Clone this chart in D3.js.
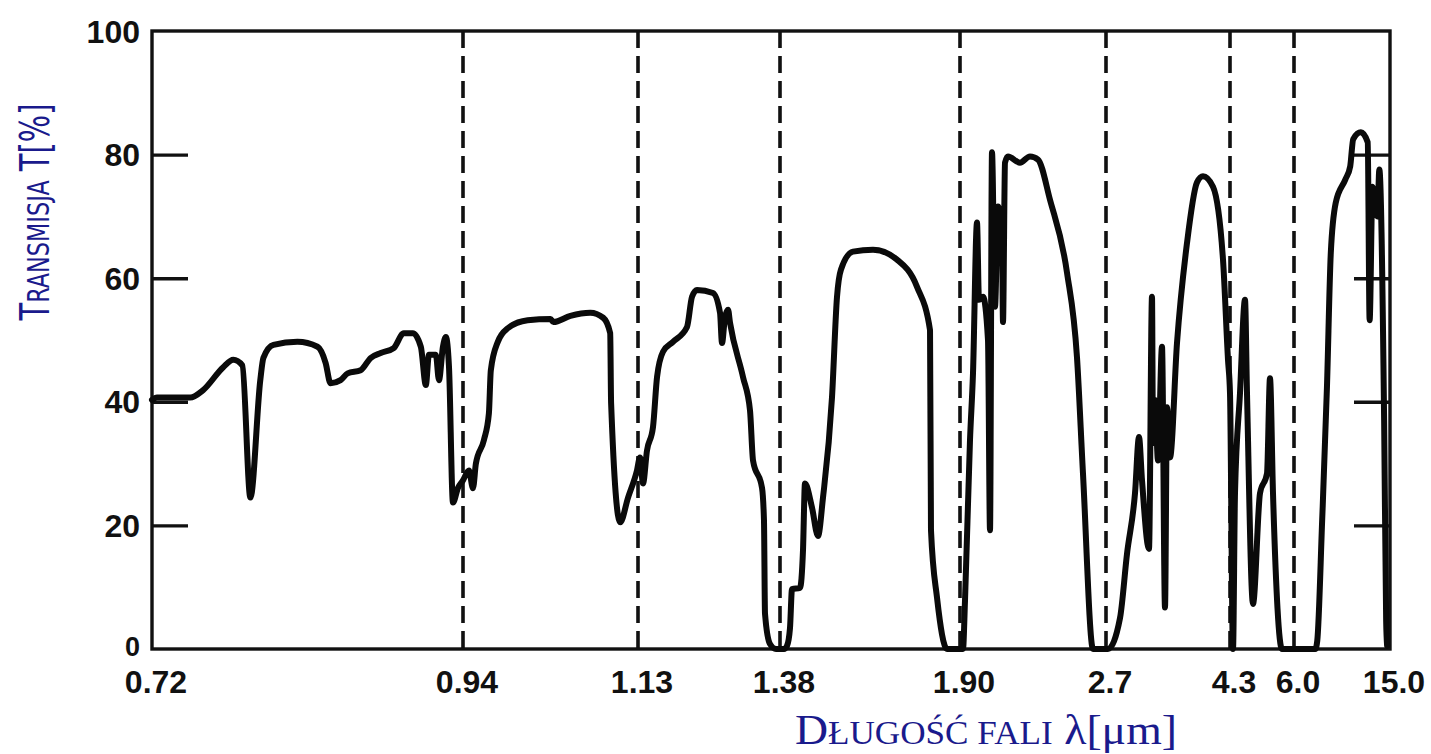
<!DOCTYPE html>
<html>
<head>
<meta charset="utf-8">
<script src="https://cdn.jsdelivr.net/npm/d3@7"></script>
<style>
  body { margin: 0; background: #fff; }
  .tick-label { font-family: "Liberation Sans", Arial, sans-serif; font-weight: bold; font-size: 32px; fill: #111; }
</style>
</head>
<body>
<div id="chart"></div>
<script>
// VARIABLES
var width = 1431;
var height = 754;

// axis values
var xTickValues = [0.72, 0.94, 1.13, 1.38, 1.90, 2.7, 4.3, 6.0, 15.0];
var xTickLabels = ["0.72", "0.94", "1.13", "1.38", "1.90", "2.7", "4.3", "6.0", "15.0"];
var dashedValues = [0.94, 1.13, 1.38, 1.90, 2.7, 4.3, 6.0];
var yTickValues = [0, 20, 40, 60, 80, 100];
var yTickLabels = ["0", "20", "40", "60", "80", "100"];

// transmission curve
var wavelength = [
  0.720, 0.7235, 0.747, 0.7562, 0.7704, 0.7775, 0.7839, 0.7896, 0.7966, 0.7988,
  0.8059, 0.8229, 0.8371, 0.8428, 0.8463, 0.8534, 0.8584, 0.8676, 0.8747, 0.8818,
  0.8910, 0.8981, 0.9045, 0.9102, 0.9137, 0.9159, 0.9208, 0.9230, 0.9258, 0.9279,
  0.9301, 0.9329, 0.9365, 0.940,
  0.9465, 0.9508, 0.9540, 0.9627, 0.9681, 0.9702, 0.9778, 0.9886, 1.0102, 1.0350,
  1.0382, 1.0566, 1.0782, 1.0922, 1.0998, 1.1008, 1.1106, 1.1192, 1.1289,
  1.1335, 1.1388, 1.1458, 1.1564, 1.1635, 1.1740, 1.1916, 1.2163, 1.2251, 1.2339,
  1.2620, 1.2744, 1.2779, 1.2832, 1.2885, 1.2920, 1.3149, 1.3272, 1.3325, 1.3483,
  1.3518, 1.3536, 1.3624, 1.3730,
  1.3916, 1.4002, 1.4089, 1.4147, 1.4378, 1.4464, 1.4522, 1.4724, 1.4898, 1.5042,
  1.5302, 1.5447, 1.5562, 1.5909, 1.6487, 1.7180, 1.7758, 1.8134, 1.8162, 1.8336,
  1.8625,
  1.9164, 1.9274, 1.9548, 1.9712, 1.9931, 2.0041, 2.0260, 2.0534, 2.0644, 2.0753,
  2.0918, 2.1082, 2.1301, 2.1356, 2.1466, 2.1630, 2.2287, 2.2835, 2.3274, 2.3931,
  2.4863, 2.5410, 2.5739, 2.6287,
  2.7258, 2.8806, 2.9710, 3.0742, 3.1258, 3.1645, 3.2548, 3.2935, 3.3065, 3.3323,
  3.3710, 3.4226, 3.4613, 3.4871, 3.5258, 3.6161, 3.7452, 3.8742, 3.9516, 4.0806,
  4.2097, 4.2742, 4.30,
  4.3797, 4.4328, 4.5656, 4.6984, 4.7516, 4.9109, 5.0969, 5.2828, 5.3625, 5.4422,
  5.6813,
  8.0, 8.18, 8.64, 9.09, 9.45, 9.91, 10.82, 11.27, 11.55, 12.27,
  12.91, 13.09, 13.36, 13.82, 14.0, 14.45, 14.64, 14.73
];
var transmission = [
  40.3, 40.7, 40.7, 41.9, 45.6, 46.8, 45.9, 24.5, 43.5, 47.1,
  49.2, 49.7, 48.9, 46.3, 43.0, 43.5, 44.6, 45.1, 47.1, 47.9,
  48.7, 51.1, 51.1, 48.9, 42.7, 47.6, 47.6, 43.5, 48.9, 50.5,
  45.6, 23.7, 26.1, 27.3,
  28.9, 26.0, 30.0, 33.8, 38.1, 45.1, 49.7, 51.9, 53.2, 53.4,
  52.9, 53.9, 54.4, 53.6, 51.1, 39.8, 20.5, 24.5, 28.9,
  31.0, 26.8, 32.1, 35.9, 44.0, 48.1, 49.7, 52.1, 57.0, 58.1,
  57.6, 54.4, 49.5, 53.7, 54.9, 52.8, 44.0, 38.6, 30.5, 26.1,
  20.8, 5.7, 0.8, 0,
  0, 0.5, 3.4, 9.7, 9.9, 15.9, 26.8, 22.9, 18.3, 24.5,
  40.7, 57.0, 61.4, 64.3, 64.6, 63.0, 58.6, 51.6, 19.2, 8.3,
  0,
  0, 7.8, 33.8, 44.6, 69.0, 56.5, 57.0, 50.0, 19.2, 80.4,
  55.4, 71.6, 66.2, 52.9, 78.7, 79.7, 78.7, 79.7, 79.2, 72.7,
  60.9, 47.2, 28.4, 0,
  0, 5.0, 15.4, 25.2, 34.3, 27.3, 16.2, 57.0, 33.3, 40.3,
  30.5, 48.9, 6.7, 39.1, 31.0, 49.5, 65.7, 75.5, 76.5, 74.8,
  63.0, 46.8, 41.4,
  0, 25.2, 41.4, 56.5, 41.4, 7.3, 25.2, 28.4, 43.8, 25.2,
  0,
  0, 1.3, 20.8, 42.4, 64.1, 72.2, 76.0, 78.1, 82.5, 83.6,
  82.0, 53.2, 74.8, 70.0, 77.6, 37.0, 4.5, 0.5
];

var labelColor = "#1a1a8c";

var svg = d3.select("#chart")
    .append("svg")
    .attr("width", width)
    .attr("height", height);

// the wavelength axis is not uniform, every labelled value has its own place
var xScale = d3.scaleLinear()
    .domain(xTickValues)
    .range([152, 463, 638, 780, 960, 1106, 1230, 1294, 1390]);

var yScale = d3.scaleLinear()
    .domain([0, 100])
    .range([649, 31]);

var plotLeft = xScale(0.72), plotRight = xScale(15.0);
var plotTop = yScale(100), plotBottom = yScale(0);

// dashed guide lines
svg.selectAll("line.guide")
   .data(dashedValues)
   .enter()
   .append("line")
   .attr("class", "guide")
   .attr("x1", function(d) { return xScale(d); })
   .attr("x2", function(d) { return xScale(d); })
   .attr("y1", plotTop)
   .attr("y2", plotBottom)
   .attr("stroke", "#111")
   .attr("stroke-width", 3.6)
   .attr("stroke-dasharray", "17,8");

// frame
svg.append("rect")
   .attr("x", plotLeft)
   .attr("y", plotTop)
   .attr("width", plotRight - plotLeft)
   .attr("height", plotBottom - plotTop)
   .attr("fill", "none")
   .attr("stroke", "#111")
   .attr("stroke-width", 3.4);

// inner ticks on both sides
var leftAxis = d3.axisRight(yScale)
    .tickValues(yTickValues.slice(1, 5))
    .tickSize(36)
    .tickFormat("");
var rightAxis = d3.axisLeft(yScale)
    .tickValues(yTickValues.slice(1, 5))
    .tickSize(36)
    .tickFormat("");

svg.append("g")
   .attr("transform", "translate(" + plotLeft + ",0)")
   .call(leftAxis);
svg.append("g")
   .attr("transform", "translate(" + plotRight + ",0)")
   .call(rightAxis);
svg.selectAll(".tick line")
   .attr("stroke", "#111")
   .attr("stroke-width", 3.4);
svg.selectAll(".domain").remove();

// y tick labels (the "0" is a bit smaller and sits just above the x labels)
svg.selectAll("text.ylab")
   .data(yTickValues)
   .enter()
   .append("text")
   .attr("class", "tick-label ylab")
   .attr("x", plotLeft - 12)
   .attr("y", function(d) { return d === 0 ? yScale(d) - 3 : yScale(d); })
   .attr("dy", "0.36em")
   .attr("text-anchor", "end")
   .style("font-size", function(d) { return d === 0 ? "27px" : null; })
   .text(function(d, i) { return yTickLabels[i]; });

// x tick labels
svg.selectAll("text.xlab")
   .data(xTickValues)
   .enter()
   .append("text")
   .attr("class", "tick-label xlab")
   .attr("x", function(d) { return xScale(d) + 4; })
   .attr("y", 693)
   .attr("text-anchor", "middle")
   .text(function(d, i) { return xTickLabels[i]; });

// the curve
var points = wavelength.map(function(w, i) { return [w, transmission[i]]; });

var line = d3.line()
    .x(function(d) { return xScale(d[0]); })
    .y(function(d) { return yScale(d[1]); })
    .curve(d3.curveMonotoneX);

svg.append("path")
   .datum(points)
   .attr("d", line)
   .attr("fill", "none")
   .attr("stroke", "#0a0a0a")
   .attr("stroke-width", 6)
   .attr("stroke-linejoin", "round")
   .attr("stroke-linecap", "round");

// axis titles (small caps done by hand)
var yTitle = svg.append("text")
    .attr("transform", "translate(49,212) rotate(-90)")
    .attr("text-anchor", "middle")
    .attr("fill", labelColor)
    .attr("textLength", 217)
    .attr("lengthAdjust", "spacingAndGlyphs")
    .style("font-family", "'DejaVu Sans', sans-serif");
yTitle.append("tspan").style("font-size", "40px").text("T");
yTitle.append("tspan").style("font-size", "31px").text("RANSMISJA");
yTitle.append("tspan").style("font-size", "40px").text(" T[%]");

var xTitle = svg.append("text")
    .attr("x", 986)
    .attr("y", 744)
    .attr("text-anchor", "middle")
    .attr("fill", labelColor)
    .attr("textLength", 382)
    .attr("lengthAdjust", "spacingAndGlyphs")
    .style("font-family", "'Liberation Serif', 'DejaVu Serif', serif");
xTitle.append("tspan").style("font-size", "43px").text("D");
xTitle.append("tspan").style("font-size", "33px").text("ŁUGOŚĆ FALI");
xTitle.append("tspan").style("font-size", "43px").text(" λ[μm]");
</script>
</body>
</html>
